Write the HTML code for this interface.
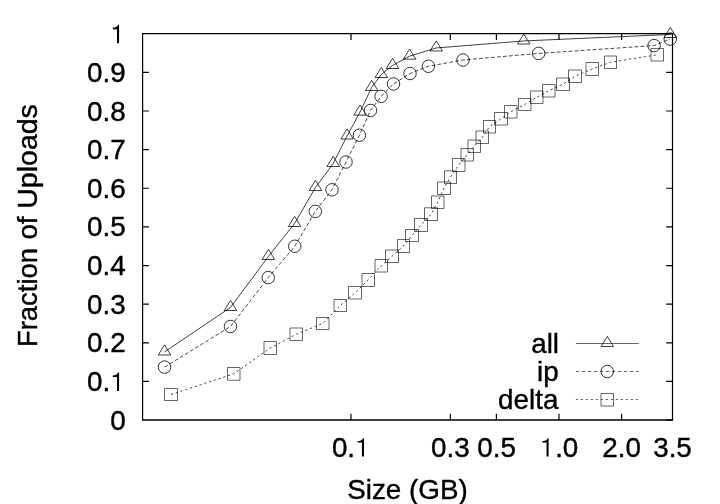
<!DOCTYPE html>
<html><head><meta charset="utf-8"><title>CDF of upload sizes</title>
<style>
html,body{margin:0;padding:0;background:#fff;}
body{width:720px;height:504px;overflow:hidden;}
svg{display:block;will-change:transform;filter:grayscale(1);}
text{font-family:"Liberation Sans",sans-serif;fill:#000;}
</style></head><body>
<svg width="720" height="504" viewBox="0 0 720 504">
<rect width="720" height="504" fill="#fff"/>
<g fill="none" stroke="#000" stroke-width="1.2" stroke-linecap="butt">
<path d="M142.6 420V33.7H672.5V420"/>
<path stroke-width="1.7" d="M142.0 420H673.1"/>
<path d="M142.6 381.46h6.3M672.5 381.46h-6.3M142.6 342.82h6.3M672.5 342.82h-6.3M142.6 304.18h6.3M672.5 304.18h-6.3M142.6 265.54h6.3M672.5 265.54h-6.3M142.6 226.9h6.3M672.5 226.9h-6.3M142.6 188.26h6.3M672.5 188.26h-6.3M142.6 149.62h6.3M672.5 149.62h-6.3M142.6 110.98h6.3M672.5 110.98h-6.3M142.6 72.34h6.3M672.5 72.34h-6.3M351 420.1v-6.3M351 33.7v6.3M450.3 420.1v-6.3M450.3 33.7v6.3M496.4 420.1v-6.3M496.4 33.7v6.3M559 420.1v-6.3M559 33.7v6.3M621.65 420.1v-6.3M621.65 33.7v6.3M672.5 420.1h-6.3M672.5 33.7h-6.3"/>
</g>
<g fill="none" stroke="#000" stroke-width="0.75">
<path d="M164.5 351.95L230.5 307.45L268.4 256.45L294.6 223.45L315.5 187.45L333.2 163.45L347.1 135.95L360 112.05L371.7 87.45L381.3 74.45L392.5 65.45L409.6 56.15L436.25 47.95L523.75 40.95L670.3 34.45"/>
<path stroke-width="0.72" stroke-dasharray="3.8 2.2" d="M164.5 367.1L230.5 326.5L268.25 277.6L294.75 246.25L315.3 211.4L332 189.8L346 162L359.4 135.25L370.5 110.5L381.1 96.3L393.5 84L410 73.5L428.4 66.25L463 60L538.6 53.4L654.1 45.6L670.25 39.1"/>
<path stroke-width="0.72" stroke-dasharray="2.2 2.8" d="M171 394.5L233.75 373.88L270.25 348L296.25 334.25L322.75 323.5L340.25 305.5L355 292.75L368.25 280L381.25 265.75L392 256.25L403.5 246L412 235.5L421 225L431 214.12L437.75 202.25L444 188.25L450.5 177.2L458.75 165L467.25 154.75L474.25 146.25L482.25 137.25L489.5 126.75L501 118.75L510.75 111.75L524.75 104.5L536.75 97.25L548.75 90.75L563 84.25L575 76.25L592.25 69L610.5 62.25L657.25 54.75"/>
<path stroke-width="0.6" d="M575.8 343.5H638.8"/>
<path stroke-width="0.6" stroke-dasharray="3.4 2.6" d="M575.8 371.5H638.8"/>
<path stroke-width="0.6" stroke-dasharray="2.2 2.8" d="M575.8 399.5H638.8"/>
<path d="M164.5 344.88L158.25 355H170.75ZM230.5 300.38L224.25 310.5H236.75ZM268.4 249.38L262.15 259.5H274.65ZM294.6 216.38L288.35 226.5H300.85ZM315.5 180.38L309.25 190.5H321.75ZM333.2 156.38L326.95 166.5H339.45ZM347.1 128.88L340.85 139H353.35ZM360 104.97L353.75 115.1H366.25ZM371.7 80.38L365.45 90.5H377.95ZM381.3 67.38L375.05 77.5H387.55ZM392.5 58.38L386.25 68.5H398.75ZM409.6 49.08L403.35 59.2H415.85ZM436.25 40.88L430 51H442.5ZM523.75 33.88L517.5 44H530ZM670.3 27.38L664.05 37.5H676.55ZM607.3 336.38L601.05 346.5H613.55Z"/>
<g stroke-width="0.8">
<circle cx="164.5" cy="367.1" r="6.25"/>
<circle cx="230.5" cy="326.5" r="6.25"/>
<circle cx="268.25" cy="277.6" r="6.25"/>
<circle cx="294.75" cy="246.25" r="6.25"/>
<circle cx="315.3" cy="211.4" r="6.25"/>
<circle cx="332" cy="189.8" r="6.25"/>
<circle cx="346" cy="162" r="6.25"/>
<circle cx="359.4" cy="135.25" r="6.25"/>
<circle cx="370.5" cy="110.5" r="6.25"/>
<circle cx="381.1" cy="96.3" r="6.25"/>
<circle cx="393.5" cy="84" r="6.25"/>
<circle cx="410" cy="73.5" r="6.25"/>
<circle cx="428.4" cy="66.25" r="6.25"/>
<circle cx="463" cy="60" r="6.25"/>
<circle cx="538.6" cy="53.4" r="6.25"/>
<circle cx="654.1" cy="45.6" r="6.25"/>
<circle cx="670.25" cy="39.1" r="6.25"/>
<circle cx="607.25" cy="371.5" r="6.25"/>
</g>
<path stroke-width="0.6" d="M164.5 388.5H177.5V400.5H164.5ZM227.5 367.5H240V380.25H227.5ZM264 341.5H276.5V354.5H264ZM290 328H302.5V340.5H290ZM316.5 317.5H329V329.5H316.5ZM334 299.5H346.5V311.5H334ZM348.5 286.5H361.5V299H348.5ZM362 273.5H374.5V286.5H362ZM375 259.5H387.5V272H375ZM385.5 250H398.5V262.5H385.5ZM397.5 239.5H409.5V252.5H397.5ZM405.5 229.5H418.5V241.5H405.5ZM414.5 218.5H427.5V231.5H414.5ZM424.5 207.75H437.5V220.5H424.5ZM431.5 196H444V208.5H431.5ZM437.5 182H450.5V194.5H437.5ZM444.5 170.9H456.5V183.5H444.5ZM452.5 158.5H465V171.5H452.5ZM461 148.5H473.5V161H461ZM468 140H480.5V152.5H468ZM476 131H488.5V143.5H476ZM483.5 120.5H495.5V133H483.5ZM494.5 112.5H507.5V125H494.5ZM504.5 105.5H517V118H504.5ZM518.5 98.5H531V110.5H518.5ZM530.5 91H543V103.5H530.5ZM542.5 84.5H555V97H542.5ZM556.5 78H569.5V90.5H556.5ZM568.5 70H581.5V82.5H568.5ZM586 62.5H598.5V75.5H586ZM604.5 56H616.5V68.5H604.5ZM651 48.5H663.5V61H651ZM601 393.5H613.5V406H601Z"/>
</g>
<g font-size="27.8" fill="#000" stroke="#000" stroke-width="0.4" stroke-linejoin="round">
<text x="110.14" y="429.65">0</text>
<text x="86.96" y="391.01">0.</text><path transform="translate(110.14 391.01) scale(0.02780 -0.0262)" d="M321 0H247V538H95V594C180 598 262 620 290 704H321Z"/>
<text x="86.96" y="352.37">0.2</text>
<text x="86.96" y="313.73">0.3</text>
<text x="86.96" y="275.09">0.4</text>
<text x="86.96" y="236.45">0.5</text>
<text x="86.96" y="197.81">0.6</text>
<text x="86.96" y="159.17">0.7</text>
<text x="86.96" y="120.53">0.8</text>
<text x="86.96" y="81.89">0.9</text>
<path transform="translate(110.14 43.25) scale(0.02780 -0.0262)" d="M321 0H247V538H95V594C180 598 262 620 290 704H321Z"/>
<text x="331.88" y="456.6">0.</text><path transform="translate(355.06 456.6) scale(0.02780 -0.0262)" d="M321 0H247V538H95V594C180 598 262 620 290 704H321Z"/>
<text x="431.08" y="456.6">0.3</text>
<text x="477.28" y="456.6">0.5</text>
<path transform="translate(539.68 456.6) scale(0.02780 -0.0262)" d="M321 0H247V538H95V594C180 598 262 620 290 704H321Z"/><text x="555.14" y="456.6">.0</text>
<text x="602.28" y="456.6">2.0</text>
<text x="653.18" y="456.6">3.5</text>
<text x="407.5" y="499" text-anchor="middle">Size (GB)</text>
<text transform="translate(37.0 347.1) rotate(-90)" textLength="99.2" lengthAdjust="spacingAndGlyphs">Fraction</text>
<text transform="translate(37.0 239.6) rotate(-90)">of</text>
<text transform="translate(37.0 208.8) rotate(-90)" textLength="104.7" lengthAdjust="spacingAndGlyphs">Uploads</text>
<text x="559" y="352.6" text-anchor="end">all</text>
<text x="558.6" y="380.8" text-anchor="end">ip</text>
<text x="558.4" y="408.9" text-anchor="end">delta</text>
</g>
</svg></body></html>
